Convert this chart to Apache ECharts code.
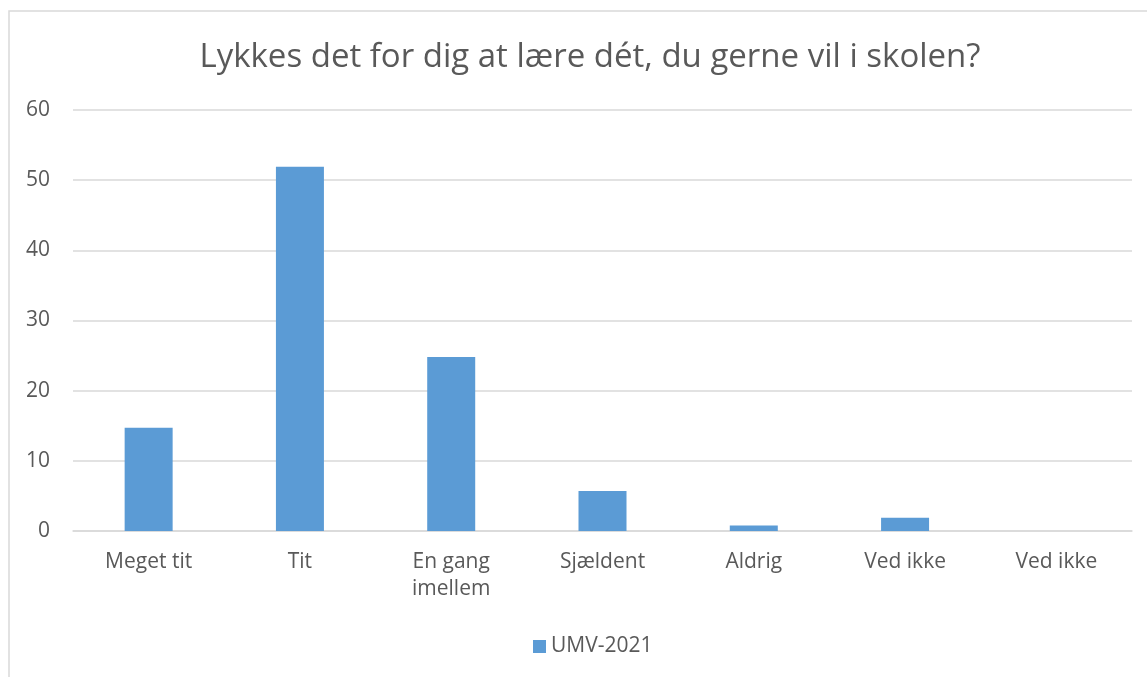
<!DOCTYPE html>
<html>
<head>
<meta charset="utf-8">
<script src="https://cdn.jsdelivr.net/npm/echarts@6/dist/echarts.min.js"></script>
<style>
  html, body { margin: 0; padding: 0; background: #fff; }
  #chart { width: 1147px; height: 677px; }
</style>
</head>
<body>
<div id="chart"></div>
<script>
// answer categories (x axis)
const categories = ['Meget tit', 'Tit', 'En gang imellem', 'Sjældent', 'Aldrig', 'Ved ikke', 'Ved ikke']
// values
const umv2021 = [14.7, 51.9, 24.8, 5.7, 0.8, 1.9, 0]
const seriesName = 'UMV-2021'
const yTicks = [0, 10, 20, 30, 40, 50, 60]

const textColor = '#595959'
const gridColor = '#d9d9d9'
const font = '"Open Sans", Lato, sans-serif'

const chart = echarts.init(document.getElementById('chart'))
chart.setOption({
  animation: false,
  title: {
    text: 'Lykkes det for dig at lære dét, du gerne vil i skolen?',
    left: 585,
    top: 36,
    textAlign: 'center',
    textStyle: { color: textColor, fontFamily: font, fontSize: 33, fontWeight: 'normal' }
  },
  graphic: [
    {
      type: 'rect',
      silent: true,
      shape: { x: 9, y: 11, width: 1200, height: 700 },
      style: { fill: 'none', stroke: gridColor, lineWidth: 1.5 }
    }
  ],
  legend: {
    bottom: 15,
    left: 528,
    itemWidth: 13,
    itemHeight: 13,
    icon: 'rect',
    itemGap: 6,
    textStyle: { color: textColor, fontFamily: font, fontSize: 21 },
    data: [seriesName]
  },
  grid: {
    left: 73,
    right: 15,
    top: 110,
    bottom: 146
  },
  xAxis: {
    type: 'category',
    data: categories,
    axisTick: { show: false },
    axisLine: { lineStyle: { color: gridColor, width: 1.5 } },
    axisLabel: {
      color: textColor,
      fontFamily: font,
      fontSize: 21,
      margin: 18,
      lineHeight: 27,
      interval: 0,
      formatter: (v) => v.replace(' imellem', '\nimellem')
    }
  },
  yAxis: {
    type: 'value',
    min: yTicks[0],
    max: yTicks[yTicks.length - 1],
    interval: 10,
    axisLine: { show: false },
    axisTick: { show: false },
    splitLine: { lineStyle: { color: gridColor, width: 1.5 } },
    axisLabel: { color: textColor, fontFamily: font, fontSize: 21, margin: 23 }
  },
  series: [
    {
      name: seriesName,
      type: 'bar',
      data: umv2021,
      barWidth: 48,
      itemStyle: { color: '#5b9bd5' }
    }
  ]
})
</script>
</body>
</html>
